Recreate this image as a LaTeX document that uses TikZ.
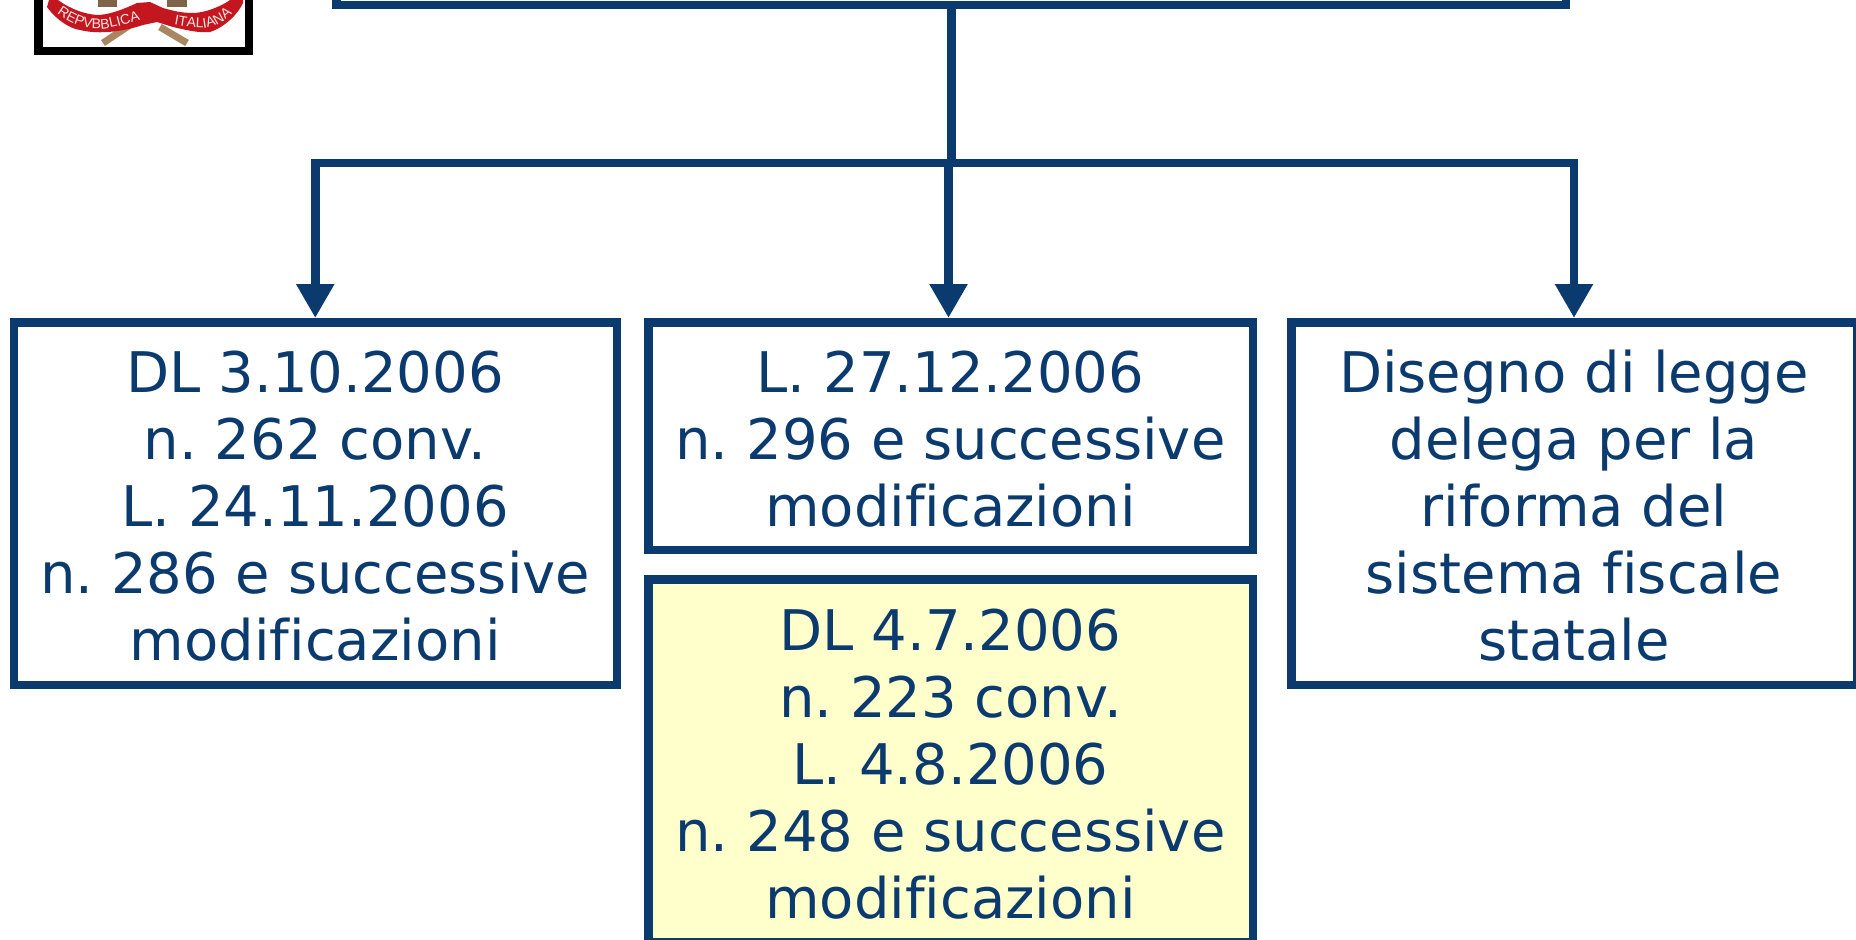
\documentclass[tikz,border=0pt]{standalone}
\usepackage{fontspec}
\setmainfont[Ligatures=NoCommon]{DejaVu Sans}
\newfontfamily\ribbonfont{Liberation Sans}
\usetikzlibrary{arrows.meta,decorations.text}
\definecolor{navy}{HTML}{0B3A6E}
\definecolor{pale}{HTML}{FFFFCC}
\definecolor{ribbon}{HTML}{C4161E}
\definecolor{branch}{HTML}{A88660}
\frenchspacing
\newcommand\liftline{\rule{0pt}{47.5pt}}
\tikzset{
 x=1pt,y=-1pt,
 lawbox/.style={draw=navy,line width=8.5pt,fill=white,text=navy,align=center,font=\fontsize{56}{67}\selectfont,inner sep=0pt,anchor=north west},
 conn/.style={draw=navy,line width=8.5pt},
 arr/.style={conn,-{Triangle[length=34pt,width=36pt]}},
 ribbontext/.style={decorate,decoration={text along path,text color=white!90!ribbon,text align=center,text={|\ribbonfont\fontsize{14}{14}\selectfont|#1}}},
}
\begin{document}
\begin{tikzpicture}
\useasboundingbox (0,0) rectangle (1856,940);
\clip (0,0) rectangle (1856,940);
% emblem
\node[draw=black,line width=8.5pt,fill=white,minimum width=210.5pt,minimum height=80pt,inner sep=0pt,anchor=south west] (emblem) at (34,55) {};
\begin{scope}
\clip (42,0) rectangle (244,46.5);
\draw[branch,line width=7pt] (130,25) -- (103,43);
\draw[branch,line width=7pt] (160,27) -- (187,43);
\fill[branch!75!black] (98,0) rectangle (117,7);
\fill[branch!75!black] (167,0) rectangle (187,7);
\fill[ribbon] (47,7) .. controls (58,22) and (72,29) .. (80,30) .. controls (100,35) and (125,31) .. (143,25) -- (157,22) -- (173,27) .. controls (190,31) and (200,33) .. (210,32) .. controls (225,27) and (238,14) .. (243,3) -- (243,0) -- (230,0) .. controls (222,6) and (205,13) .. (193,13) .. controls (180,13) and (170,10) .. (163,8) -- (150,2) -- (137,3) .. controls (122,10) and (108,15) .. (97,15) .. controls (85,14) and (72,10) .. (58,0) -- (49,0) -- cycle;
\path[ribbontext=REPVBBLICA] (50,8) .. controls (66,22) and (82,29) .. (98,29) .. controls (115,29) and (130,22) .. (149,18);
\path[ribbontext=ITALIANA] (161,22) .. controls (175,25) and (190,28) .. (204,28) .. controls (222,26) and (232,14) .. (242,5);
\end{scope}
% boxes
\node[draw=navy,line width=8.5pt,fill=white,minimum width=1229.5pt,minimum height=40pt,inner sep=0pt,anchor=south west] (top) at (332,9) {};
\node[lawbox,minimum width=603pt,minimum height=362.5pt] (a) at (9.5,318) {\liftline DL 3.10.2006\\n. 262 conv.\\L. 24.11.2006\\n. 286 e successive\\modificazioni};
\node[lawbox,minimum width=604.5pt,minimum height=227.5pt] (b) at (644,318) {\liftline L. 27.12.2006\\n. 296 e successive\\modificazioni};
\node[lawbox,fill=pale,minimum width=604.5pt,minimum height=363pt] (c) at (644,575) {\liftline DL 4.7.2006\\n. 223 conv.\\L. 4.8.2006\\n. 248 e successive\\modificazioni};
\node[lawbox,minimum width=565.5pt,minimum height=362.5pt] (d) at (1287,318) {\liftline Disegno di legge\\delega per la\\riforma del\\sistema fiscale\\statale};
% connectors
\coordinate (hub) at (951.5,163);
\coordinate (bhub) at (948.5,163);
\draw[conn] (hub |- top.south) -- (hub);
\draw[arr] (hub) -| (a.north);
\draw[arr] (hub) -| (d.north);
\draw[arr] (bhub) -- (bhub |- b.north);
\end{tikzpicture}
\end{document}
